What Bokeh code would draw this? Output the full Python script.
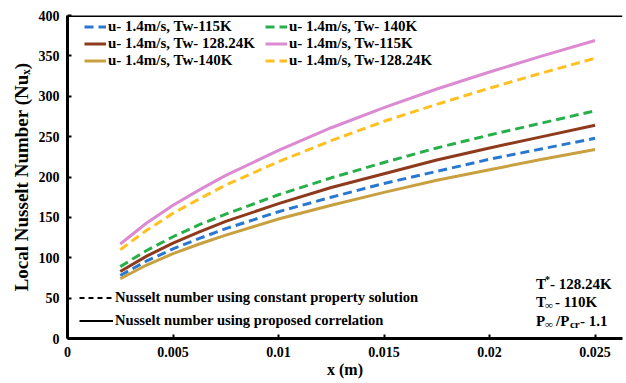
from bokeh.plotting import figure
from bokeh.models import Legend, LegendItem, Label, Span, FixedTicker, Range1d
from bokeh.embed import file_html
from bokeh.resources import INLINE

# ---- data ----
x_m = [0.0025, 0.00375, 0.005, 0.00625, 0.0075, 0.01, 0.0125, 0.015, 0.0175, 0.02, 0.0225, 0.025]

# constant property solution (dashed)
nu_const_tw115 = [110, 134, 155, 173, 190, 219, 245, 269, 290, 310, 329, 347]
nu_const_tw140 = [89, 109, 126, 141, 154, 178, 199, 218, 236, 252, 267, 282]
nu_const_tw12824 = [78, 96, 111, 124, 136, 157, 175, 192, 207, 222, 235, 248]

# proposed correlation (solid)
nu_corr_tw115 = [117, 143, 165, 184, 202, 233, 261, 286, 309, 330, 350, 369]
nu_corr_tw12824 = [83, 102, 118, 132, 145, 167, 187, 204, 221, 236, 250, 264]
nu_corr_tw140 = [74, 91, 105, 117, 128, 148, 165, 181, 196, 209, 222, 234]

x_ticks = [0, 0.005, 0.01, 0.015, 0.02, 0.025]
x_tick_labels = ["0", "0.005", "0.01", "0.015", "0.02", "0.025"]
y_ticks = [0, 50, 100, 150, 200, 250, 300, 350, 400]

legend_labels = [
    "u- 1.4m/s, Tw-115K",
    "u- 1.4m/s, Tw- 128.24K",
    "u- 1.4m/s, Tw-140K",
    "u- 1.4m/s, Tw- 140K",
    "u- 1.4m/s, Tw-115K",
    "u- 1.4m/s, Tw-128.24K",
]

FONT = "Liberation Serif"

p = figure(width=626, height=383, output_backend="svg", toolbar_location=None,
           x_range=Range1d(0, 0.0263), y_range=Range1d(0, 400),
           min_border_left=67, min_border_right=4, min_border_top=15,
           min_border_bottom=45)
p.outline_line_color = None
p.xgrid.visible = False
p.ygrid.visible = False
p.background_fill_color = "white"
p.border_fill_color = "white"

for ax in (p.xaxis[0], p.yaxis[0]):
    ax.axis_line_width = 3
    ax.axis_line_color = "black"
    ax.major_tick_in = 4
    ax.major_tick_out = 0
    ax.major_tick_line_width = 2
    ax.minor_tick_line_color = None
    ax.major_label_text_font = FONT
    ax.major_label_text_font_style = "bold"
    ax.major_label_text_font_size = "14px"
    ax.major_label_text_color = "black"
    ax.axis_label_text_font = FONT
    ax.axis_label_text_font_style = "bold"
    ax.axis_label_text_color = "black"

p.xaxis.ticker = FixedTicker(ticks=x_ticks)
p.xaxis.major_label_overrides = {t: s for t, s in zip(x_ticks, x_tick_labels)}
p.yaxis.ticker = FixedTicker(ticks=y_ticks)
p.xaxis.axis_label = "x (m)"
p.yaxis.axis_label = "Local Nusselt Number (Nuₓ)"
p.xaxis.axis_label_text_font_size = "16px"
p.yaxis.axis_label_text_font_size = "19px"
p.xaxis.major_label_standoff = 8
p.xaxis.axis_label_standoff = 1
p.yaxis.major_label_standoff = 8
p.yaxis.axis_label_standoff = 4

# top border
p.add_layout(Span(location=400, dimension="width", line_color="black", line_width=3))

DASH = "9 5"
LW = 3
r_blue = p.line(x_m, nu_const_tw12824, line_color="#2878d0", line_width=LW, line_dash=DASH)
r_green = p.line(x_m, nu_const_tw140, line_color="#27b04a", line_width=LW, line_dash=DASH)
r_yellow = p.line(x_m, nu_const_tw115, line_color="#ffc020", line_width=LW, line_dash=DASH)
r_pink = p.line(x_m, nu_corr_tw115, line_color="#dc8ad2", line_width=LW)
r_brown = p.line(x_m, nu_corr_tw12824, line_color="#8e3a1c", line_width=LW)
r_gold = p.line(x_m, nu_corr_tw140, line_color="#c9a040", line_width=LW)

# legend-only black renderers
k_dash = p.line([0.01, 0.011], [-50, -50], line_color="black", line_width=2, line_dash="5 4")
k_solid = p.line([0.01, 0.011], [-50, -50], line_color="black", line_width=2)


def make_legend(items, loc, gw=22, lh=15, fs="15px"):
    lg = Legend(items=items, location=loc, padding=0, margin=0, spacing=0,
                border_line_color=None, background_fill_alpha=0.0,
                glyph_width=gw, glyph_height=lh,
                label_height=lh, label_standoff=2,
                label_text_font=FONT, label_text_font_style="bold",
                label_text_font_size=fs, label_text_color="black")
    p.add_layout(lg, "center")
    return lg


make_legend([LegendItem(label=legend_labels[0], renderers=[r_blue]),
             LegendItem(label=legend_labels[1], renderers=[r_brown]),
             LegendItem(label=legend_labels[2], renderers=[r_gold])], (17, 269))
make_legend([LegendItem(label=legend_labels[3], renderers=[r_green]),
             LegendItem(label=legend_labels[4], renderers=[r_pink]),
             LegendItem(label=legend_labels[5], renderers=[r_yellow])], (198, 269))
make_legend([LegendItem(label="Nusselt number using constant property solution", renderers=[k_dash]),
             LegendItem(label="Nusselt number using proposed correlation", renderers=[k_solid])],
            (12, 6), gw=34, lh=23, fs="14.6px")


def lab(x, y, text, size="15px", xo=0, yo=0):
    p.add_layout(Label(x=x, y=y, text=text, x_offset=xo, y_offset=yo,
                       text_font=FONT, text_font_style="bold", text_font_size=size,
                       text_color="black", text_align="left", text_baseline="middle"))


xa = 0.0222
lab(xa, 68, "T")
lab(xa, 68, "*", size="10px", xo=9, yo=4)
lab(xa, 68, "- 128.24K", xo=14)
lab(xa, 45, "T")
lab(xa, 45, "∞", size="11px", xo=9, yo=-3)
lab(xa, 45, " - 110K", xo=19)
lab(xa, 22, "P")
lab(xa, 22, "∞", size="11px", xo=9, yo=-3)
lab(xa, 22, "/P", xo=20)
lab(xa, 22, "cr", size="11px", xo=34, yo=-3)
lab(xa, 22, " - 1.1", xo=44)

open("out.html", "w").write(file_html(p, INLINE))
